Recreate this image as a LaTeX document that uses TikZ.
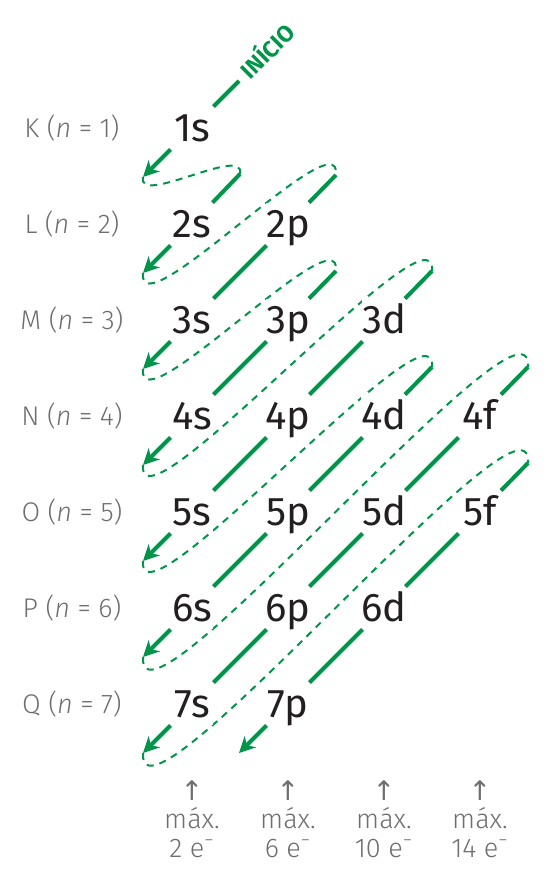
\documentclass[tikz,border=0pt]{standalone}
\usepackage{fontspec}
\setmainfont{Fira Sans}
\newfontfamily\lightfont{Fira Sans Light}[ItalicFont={Fira Sans Light Italic}]
\newfontfamily\arrowfont{DejaVu Sans}
\usetikzlibrary{arrows.meta}
\definecolor{grn}{HTML}{00964A}
\definecolor{ink}{HTML}{231F20}
\definecolor{lbl}{HTML}{6E6E6E}
\begin{document}
\begin{tikzpicture}[x=0.5pt,y=-0.5pt,
  orb/.style={rectangle, fill=white, minimum width=21pt, minimum height=21pt, inner sep=0pt,
    text=ink, font=\fontsize{20}{24}\selectfont, text height=13.8pt, text depth=0pt},
  diag/.style={grn, line width=2pt},
  diagarrow/.style={diag, -{Stealth[length=8pt, width=8pt, inset=2.5pt]}},
  loopline/.style={grn, line width=1pt, dash pattern=on 3.5pt off 3pt},
  shell/.style={text=lbl, font=\lightfont\fontsize{13.5}{16}\selectfont, text height=9.3pt, text depth=0pt, inner sep=0pt},
  maxtext/.style={text=lbl, font=\lightfont\fontsize{13.5}{16}\selectfont, inner sep=0pt, anchor=base},
  start/.style={grn, font=\fontsize{11.5}{13}\selectfont\bfseries, rotate=45, inner sep=0pt, text height=7.9pt, text depth=0pt}
]
\useasboundingbox (0,0) rectangle (559,882);

% diagonal start and end points
\coordinate (s1) at (239,81);
\coordinate (s2) at (240,174);
\coordinate (s3) at (336,175);
\coordinate (s4) at (336,271);
\coordinate (s5) at (432,271);
\coordinate (s6) at (432,367);
\coordinate (s7) at (528,367);
\coordinate (s8) at (528,463);
\coordinate (e1) at (143,177);
\coordinate (e2) at (143,273);
\coordinate (e3) at (143,369);
\coordinate (e4) at (143,465);
\coordinate (e5) at (143,561);
\coordinate (e6) at (143,657);
\coordinate (e7) at (143,753);
\coordinate (e8) at (239,753);

% dashed return loops
\draw[loopline] (e1) .. controls +(-6,30) and +(6,-30) .. (s2);
\draw[loopline] (e2) .. controls +(-6,60) and +(6,-60) .. (s3);
\draw[loopline] (e3) .. controls +(-6,60) and +(6,-60) .. (s4);
\draw[loopline] (e4) .. controls +(-6,76) and +(6,-76) .. (s5);
\draw[loopline] (e5) .. controls +(-6,76) and +(6,-76) .. (s6);
\draw[loopline] (e6) .. controls +(-6,96) and +(6,-96) .. (s7);
\draw[loopline] (e7) .. controls +(-6,96) and +(6,-96) .. (s8);

% orbitals
\node[orb] (o1s) at (192,128) {1s};
\node[orb] (o2s) at (192,224) {2s};
\node[orb] (o2p) at (288,224) {2p};
\node[orb] (o3s) at (192,320) {3s};
\node[orb] (o3p) at (288,320) {3p};
\node[orb] (o3d) at (384,320) {3d};
\node[orb] (o4s) at (192,416) {4s};
\node[orb] (o4p) at (288,416) {4p};
\node[orb] (o4d) at (384,416) {4d};
\node[orb] (o4f) at (480,416) {4f};
\node[orb] (o5s) at (192,512) {5s};
\node[orb] (o5p) at (288,512) {5p};
\node[orb] (o5d) at (384,512) {5d};
\node[orb] (o5f) at (480,512) {5f};
\node[orb] (o6s) at (192,608) {6s};
\node[orb] (o6p) at (288,608) {6p};
\node[orb] (o6d) at (384,608) {6d};
\node[orb] (o7s) at (192,704) {7s};
\node[orb] (o7p) at (288,704) {7p};

% start label
\node[start] (inicio) at (268,52) {INÍCIO};

% diagonals
\draw[diag] (s1) -- (o1s); \draw[diagarrow] (o1s) -- (e1);
\draw[diag] (s2) -- (o2s); \draw[diagarrow] (o2s) -- (e2);
\draw[diag] (s3) -- (o2p); \draw[diag] (o2p) -- (o3s); \draw[diagarrow] (o3s) -- (e3);
\draw[diag] (s4) -- (o3p); \draw[diag] (o3p) -- (o4s); \draw[diagarrow] (o4s) -- (e4);
\draw[diag] (s5) -- (o3d); \draw[diag] (o3d) -- (o4p); \draw[diag] (o4p) -- (o5s); \draw[diagarrow] (o5s) -- (e5);
\draw[diag] (s6) -- (o4d); \draw[diag] (o4d) -- (o5p); \draw[diag] (o5p) -- (o6s); \draw[diagarrow] (o6s) -- (e6);
\draw[diag] (s7) -- (o4f); \draw[diag] (o4f) -- (o5d); \draw[diag] (o5d) -- (o6p); \draw[diag] (o6p) -- (o7s); \draw[diagarrow] (o7s) -- (e7);
\draw[diag] (s8) -- (o5f); \draw[diag] (o5f) -- (o6d); \draw[diag] (o6d) -- (o7p); \draw[diagarrow] (o7p) -- (e8);

% shell labels
\node[shell] (K) at (72,128) {K (\textit{n} = 1)};
\node[shell] (L) at (72,224) {L (\textit{n} = 2)};
\node[shell] (M) at (72,320) {M (\textit{n} = 3)};
\node[shell] (N) at (72,416) {N (\textit{n} = 4)};
\node[shell] (O) at (72,512) {O (\textit{n} = 5)};
\node[shell] (P) at (72,608) {P (\textit{n} = 6)};
\node[shell] (Q) at (72,704) {Q (\textit{n} = 7)};

% capacity notes
\node[maxtext] (a1) at (192,800) {\arrowfont ↑};
\node[maxtext] (a2) at (288,800) {\arrowfont ↑};
\node[maxtext] (a3) at (384,800) {\arrowfont ↑};
\node[maxtext] (a4) at (480,800) {\arrowfont ↑};
\node[maxtext] (m1) at (192,828) {máx.};
\node[maxtext] (m2) at (288,828) {máx.};
\node[maxtext] (m3) at (384,828) {máx.};
\node[maxtext] (m4) at (480,828) {máx.};
\node[maxtext] (c1) at (192,857) {2 e\textsuperscript{−}};
\node[maxtext] (c2) at (288,857) {6 e\textsuperscript{−}};
\node[maxtext] (c3) at (384,857) {10 e\textsuperscript{−}};
\node[maxtext] (c4) at (480,857) {14 e\textsuperscript{−}};
\end{tikzpicture}
\end{document}
